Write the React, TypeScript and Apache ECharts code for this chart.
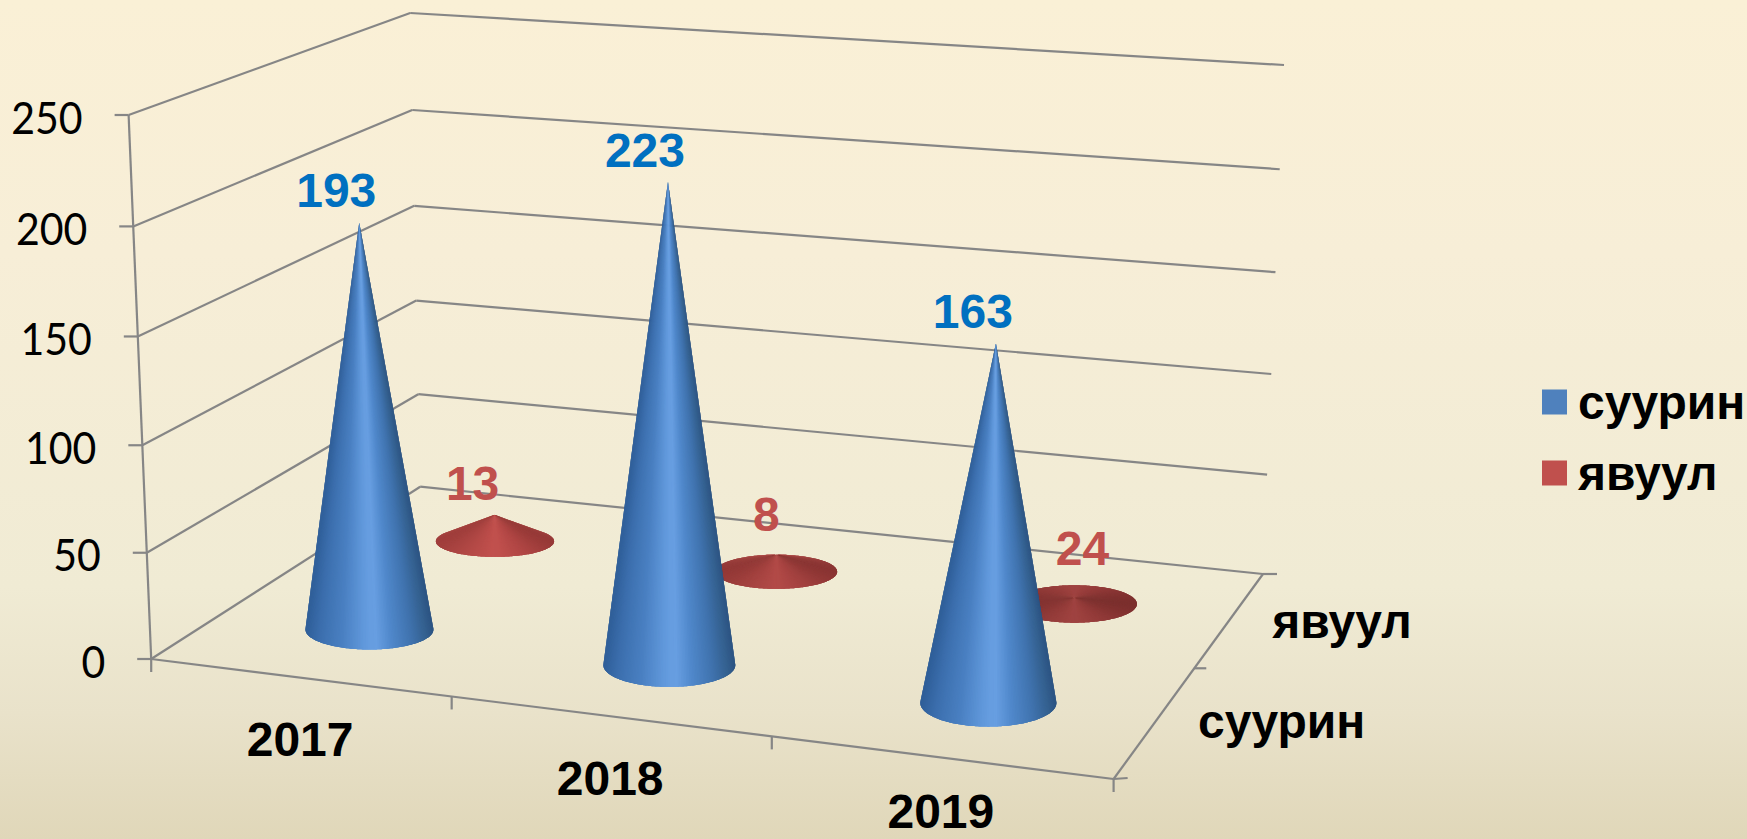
import React, { useEffect, useRef } from "react";
import * as echarts from "echarts";

const years = ["2017", "2018", "2019"];
const seriesNames = ["суурин", "явуул"];
const suurinValues = [193, 223, 163];
const yavuulValues = [13, 8, 2.4]; // heights as drawn in the picture
const suurinLabels = ["193", "223", "163"];
const yavuulLabels = ["13", "8", "24"];
const valueTicks = [0, 50, 100, 150, 200, 250];

const W = 1747;
const H = 839;
const MAX = 250;
const GRID = { left: 100, top: 100, width: 900, height: 500 };
const VANISH: [number, number] = [707, 14044];
const CONE_SCALE = 0.995;

type P = [number, number];

function squareToQuad(p0: P, p1: P, p2: P, p3: P) {
  const dx1 = p1[0] - p2[0], dy1 = p1[1] - p2[1];
  const dx2 = p3[0] - p2[0], dy2 = p3[1] - p2[1];
  const sx = p0[0] - p1[0] + p2[0] - p3[0], sy = p0[1] - p1[1] + p2[1] - p3[1];
  const den = dx1 * dy2 - dx2 * dy1;
  const g = (sx * dy2 - dx2 * sy) / den;
  const h = (dx1 * sy - sx * dy1) / den;
  const a = p1[0] - p0[0] + g * p1[0], b = p3[0] - p0[0] + h * p3[0], c = p0[0];
  const d = p1[1] - p0[1] + g * p1[1], e = p3[1] - p0[1] + h * p3[1], f = p0[1];
  return (u: number, v: number): P => {
    const w = g * u + h * v + 1;
    return [(a * u + b * v + c) / w, (d * u + e * v + f) / w];
  };
}

// Perspective box: floor and ceiling (value = 250) quads
const floor = squareToQuad([151.2, 659], [1113.6, 779], [1263, 574], [420.2, 486.7]);
const ceil = squareToQuad([128.6, 115], [1131.5, 194], [1284, 65], [410, 13]);

function project(u: number, v: number, t: number): P {
  const g = floor(u, v);
  const c = ceil(u, v);
  const s = t / (t + (1 - t) * 1.03);
  const y = g[1] + (c[1] - g[1]) * s;
  const lean = (VANISH[0] - g[0]) / (VANISH[1] - g[1]);
  return [g[0] - lean * (g[1] - y), y];
}

// the axes of the hidden grid give u and t; depth is the row of the series
function toBox(api: any, cat: number, val: number) {
  const pt = api.coord([cat, val]);
  return { u: (pt[0] - GRID.left) / GRID.width, t: (GRID.top + GRID.height - pt[1]) / GRID.height };
}

function hex(c: string) {
  return [1, 3, 5].map((i) => parseInt(c.slice(i, i + 2), 16));
}
function ramp(stops: [number, string][], t: number, k: number) {
  let i = 0;
  while (i < stops.length - 2 && t > stops[i + 1][0]) i++;
  const [t0, c0] = stops[i];
  const [t1, c1] = stops[i + 1];
  const f = Math.min(1, Math.max(0, (t - t0) / (t1 - t0)));
  const a = hex(c0), b = hex(c1);
  const m = a.map((x, j) => Math.round((x + (b[j] - x) * f) * k));
  return `rgb(${m[0]},${m[1]},${m[2]})`;
}

const blueRamp: [number, string][] = [
  [0, "#2F5E98"], [0.12, "#3C6FAE"], [0.3, "#4A80C2"], [0.46, "#5F97DA"], [0.54, "#689FE2"],
  [0.66, "#5088CB"], [0.82, "#4073AE"], [0.94, "#34608F"], [1, "#2C5483"],
];
const redRamp: [number, string][] = [
  [0, "#A03E3C"], [0.25, "#B24845"], [0.5, "#C2514E"], [0.75, "#B04644"], [1, "#973A38"],
];
const PEAK = 0.52;

function cone(api: any, row: number, stops: [number, string][], offsets: P[], labels: string[], isRed: boolean) {
  const i = api.value(0);
  const val = api.value(1);
  const b = toBox(api, i, 0);
  const tp = toBox(api, i, val * CONE_SCALE);
  const foot = project(b.u, row, 0);
  const apex = project(b.u, row, tp.t);
  const base: P = [foot[0], foot[1] + 1.5];
  const dy = base[1] - 630;
  const rx = 64 + dy * 0.055;
  const ry = 20 + dy * 0.05;
  const N = 240;
  const pts: P[] = [];
  for (let k = 0; k < N; k++) {
    const th = (k / N) * Math.PI * 2;
    pts.push([base[0] + rx * Math.cos(th), base[1] + ry * Math.sin(th)]);
  }
  const visible: boolean[] = [];
  for (let k = 0; k < N; k++) {
    const p = pts[k], q = pts[(k + 1) % N];
    // the outward side of the edge faces away from the apex: this facet is on the viewer's side
    visible.push((q[0] - p[0]) * (apex[1] - p[1]) - (q[1] - p[1]) * (apex[0] - p[0]) > 0);
  }
  const kShade = isRed ? 0.78 + 0.22 * Math.min(1, (foot[1] - apex[1]) / 25) : 1;
  const facets: { k: number; t: number }[] = [];
  for (let k = 0; k < N; k++) {
    if (!visible[k]) continue;
    facets.push({ k, t: (Math.cos(((k + 0.5) / N) * Math.PI * 2) + 1) / 2 });
  }
  // outer facets first; each overlaps its neighbours so that no seams show
  facets.sort((x, y) => Math.abs(y.t - PEAK) - Math.abs(x.t - PEAK));
  const children: any[] = facets.map(({ k, t }) => {
    const poly: P[] = [apex];
    if (visible[(k - 1 + N) % N]) poly.push(pts[(k - 1 + N) % N]);
    poly.push(pts[k], pts[(k + 1) % N]);
    if (visible[(k + 1) % N]) poly.push(pts[(k + 2) % N]);
    return { type: "polygon", shape: { points: poly }, style: { fill: ramp(stops, t, kShade) } };
  });
  const off = offsets[i];
  children.push({
    type: "text",
    style: {
      text: labels[i],
      x: apex[0] + off[0],
      y: apex[1] + off[1],
      align: "center",
      verticalAlign: "middle",
      fontFamily: "Liberation Sans",
      fontWeight: "bold",
      fontSize: 48,
      fill: isRed ? "#C0504D" : "#0070C0",
    },
  });
  return { type: "group", children };
}

const LINE = { stroke: "#868686", lineWidth: 2.2 };
function seg(a: P, b: P) {
  return { type: "line", shape: { x1: a[0], y1: a[1], x2: b[0], y2: b[1] }, style: LINE };
}
function label(text: string, x: number, y: number, align: string, font: string, weight: string, size: number) {
  return {
    type: "text",
    style: { text, x, y, align, verticalAlign: "middle", fontFamily: font, fontWeight: weight, fontSize: size, fill: "#000000" },
  };
}

function renderValueTick(_p: any, api: any) {
  const val = api.value(1);
  const { t } = toBox(api, 0, val);
  const fl = project(0, 0, t);
  const bl = project(0, 1, t);
  const br = project(1, 1, t);
  const children: any[] = [seg(fl, bl), seg(bl, br), seg([fl[0] - 14, fl[1]], fl)];
  children.push({
    type: "group",
    x: fl[0] - 46,
    y: fl[1] + 1.5,
    scaleY: 1.08,
    children: [label(String(val), 0, 0, "right", "Lato", "normal", 41)],
  });
  return { type: "group", children };
}

function renderFrame() {
  const fl = project(0, 0, 0), fr = project(1, 0, 0), br = project(1, 1, 0), top = project(0, 0, 1);
  const mid = project(1, 0.5, 0);
  const children: any[] = [
    seg(fl, top),
    seg(fl, fr),
    seg(fr, br),
    seg(fl, [fl[0], fl[1] + 13]),
    seg(fr, [fr[0], fr[1] + 13]),
    seg(fr, [fr[0] + 14, fr[1] - 1]),
    seg(br, [br[0] + 14, br[1]]),
    seg(mid, [mid[0] + 12, mid[1]]),
  ];
  [1 / 3, 2 / 3].forEach((u) => {
    const p = project(u, 0, 0);
    children.push(seg(p, [p[0], p[1] + 13]));
  });
  return { type: "group", children };
}

const yearShift = [0, 0, -8];

function renderYear(_p: any, api: any) {
  const i = api.value(0);
  const { u } = toBox(api, i, 0);
  const p = project(u, 0, 0);
  return label(years[i], p[0] + 1, p[1] + 62 + yearShift[i], "center", "Liberation Sans", "bold", 48);
}

function renderDepth(_p: any, api: any) {
  const i = api.value(0);
  const p = project(1, i === 0 ? 0.25 : 0.75, 0);
  return label(seriesNames[i], p[0] + (i === 0 ? 126 : 112), p[1] + (i === 0 ? 0 : 2), "center", "Liberation Sans", "bold", 48);
}

const blueOffsets: P[] = [[-23, -32], [-23, -32], [-23, -32]];
const redOffsets: P[] = [[-22, -31], [-10, -40], [8, -49]];

export default function App() {
  const ref = useRef<HTMLDivElement>(null);
  useEffect(() => {
    document.body.style.margin = "0";
    const chart = echarts.init(ref.current!, null, { renderer: "svg", width: W, height: H });
    const base = {
      type: "custom",
      coordinateSystem: "cartesian2d",
      clip: false,
      silent: true,
      animation: false,
    };
    chart.setOption({
      animation: false,
      backgroundColor: {
        type: "linear", x: 0, y: 0, x2: 0, y2: 1,
        colorStops: [
          { offset: 0, color: "#FAF0D6" },
          { offset: 0.3, color: "#F7EED7" },
          { offset: 0.7, color: "#F0EBD4" },
          { offset: 0.85, color: "#E9E2CA" },
          { offset: 1, color: "#E0D7B9" },
        ],
      },
      grid: { ...GRID },
      xAxis: { type: "category", data: years, show: false },
      yAxis: { type: "value", min: 0, max: MAX, interval: 50, show: false },
      legend: {
        data: seriesNames,
        orient: "vertical",
        left: 1542,
        top: 378,
        padding: 0,
        icon: "rect",
        itemWidth: 25,
        itemHeight: 25,
        itemGap: 23,
        selectedMode: false,
        textStyle: {
          fontFamily: "Liberation Sans",
          fontWeight: "bold",
          fontSize: 48,
          lineHeight: 46,
          color: "#000000",
          padding: [0, 0, 0, 6],
        },
      },
      series: [
        { ...base, name: "frame", z: 1, data: [[0, 0]], renderItem: renderFrame },
        { ...base, name: "ticks", z: 1, data: valueTicks.map((v) => [0, v]), renderItem: renderValueTick },
        { ...base, name: "years", z: 1, data: years.map((_, i) => [i, 0]), renderItem: renderYear },
        { ...base, name: "rows", z: 1, data: seriesNames.map((_, i) => [i, 0]), renderItem: renderDepth },
        {
          ...base,
          name: seriesNames[1],
          z: 2,
          itemStyle: { color: "#C0504D" },
          data: yavuulValues.map((v, i) => [i, v]),
          renderItem: (_p: any, api: any) => cone(api, 0.75, redRamp, redOffsets, yavuulLabels, true),
        },
        {
          ...base,
          name: seriesNames[0],
          z: 3,
          itemStyle: { color: "#4F81BD" },
          data: suurinValues.map((v, i) => [i, v]),
          renderItem: (_p: any, api: any) => cone(api, 0.25, blueRamp, blueOffsets, suurinLabels, false),
        },
      ],
    });
    return () => chart.dispose();
  }, []);
  return <div ref={ref} style={{ position: "absolute", left: 0, top: 0, width: W, height: H }} />;
}
